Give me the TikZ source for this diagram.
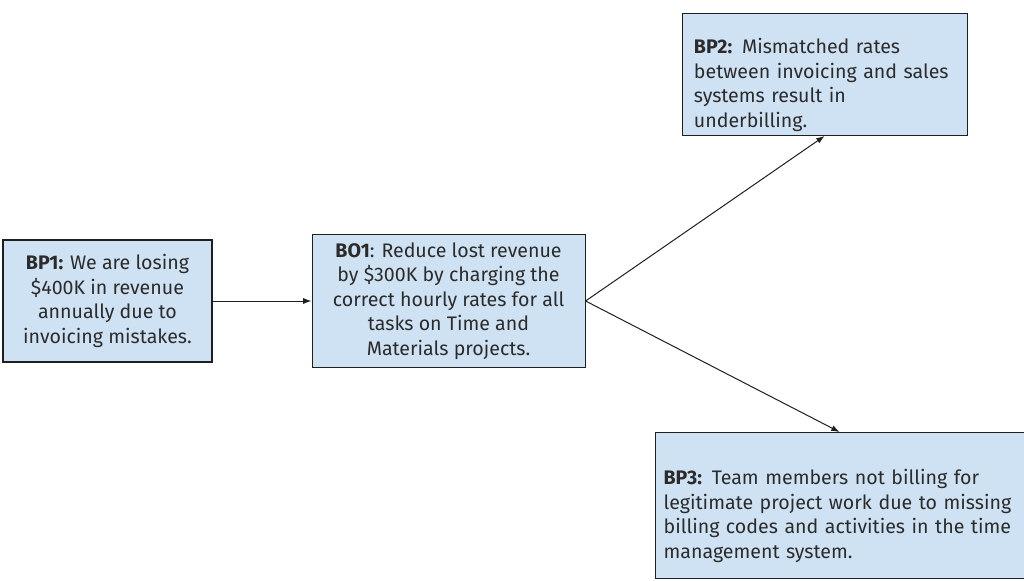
\documentclass[tikz,border=0pt]{standalone}
\usepackage{fontspec}
\setmainfont{Fira Sans}
\usepackage{tikz}
\usetikzlibrary{
  arrows.meta,
  positioning
}
\definecolor{ink}{HTML}{2B2B2B}
\definecolor{edge}{HTML}{1F1F1F}
\definecolor{boxblue}{HTML}{CFE2F3}
\newcommand{\topgap}{\rule{0pt}{27pt}}
\tikzset{
  link/.style={
    -{Latex[length=2.2mm,width=1.6mm]},
    line width=0.75pt,
    draw=edge
  },
  card/.style={
    draw=edge,
    fill=boxblue,
    line width=0.8pt,
    text=ink,
    inner sep=0pt,
    font=\fontsize{14.7pt}{18.4pt}\selectfont
  },
  problem/.style={
    card,
    align=center
  },
  cause/.style={
    card,
    align=left
  }
}

\begin{document}
\begin{tikzpicture}[node distance=1.0cm]
    \useasboundingbox (0,0) rectangle (768pt,-435.75pt);
    \node[problem, minimum width=156.75pt, minimum height=91.5pt]
      (bp1) at (80.6pt,-225.75pt) {
      \textbf{BP1:} We are losing\\
      \$400K in revenue\\
      annually due to\\
      invoicing mistakes.
    };
    \node[problem, minimum width=204.75pt, minimum height=99.75pt,
      right=74.25pt of bp1] (bo1) {
      \textbf{BO1}: Reduce lost revenue\\
      by \$300K by charging the\\
      correct hourly rates for all\\
      tasks on Time and\\
      Materials projects.
    };
    \node[cause, minimum width=213.75pt, minimum height=91.5pt,
      text width=196pt, above right=73.5pt and 72pt of bo1] (bp2) {
      \topgap\textbf{BP2:} Mismatched rates\\
      between invoicing and sales\\
      systems result in\\
      underbilling.
    };
    \node[cause, minimum width=276.75pt, minimum height=109.5pt,
      text width=264pt, below right=48pt and 51.75pt of bo1] (bp3) {
      \topgap\textbf{BP3:} Team members not billing for\\
      legitimate project work due to missing\\
      billing codes and activities in the time\\
      management system.
    };
    \draw[link] (bp1) -- (bo1);
    \draw[link] (bo1.east) -- (bp2.south);
    \draw[link] (bo1.east) -- (bp3.north);
  \end{tikzpicture}
\end{document}
